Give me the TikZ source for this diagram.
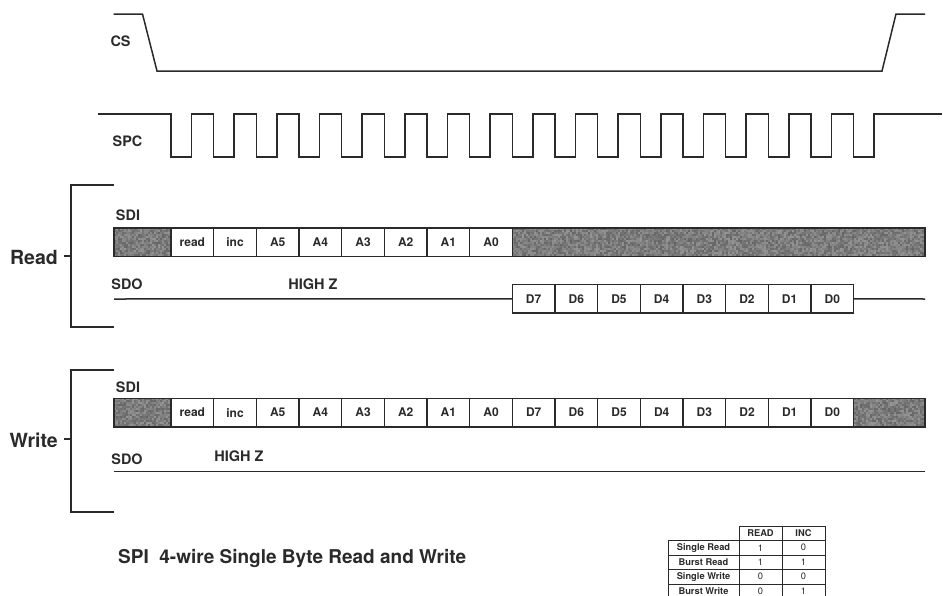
\documentclass[tikz,border=0pt]{standalone}
\usepackage{fontspec}
\setmainfont{TeX Gyre Heros}
\definecolor{ink}{HTML}{2A2A2A}
\tikzset{
  trace/.style={draw=ink,line width=1.5pt,line join=miter},
  cell/.style={draw=ink,line width=1.5pt,minimum width=42.67pt,minimum height=28.6pt,inner sep=0pt,outer sep=0pt,font=\bfseries\fontsize{12}{12}\selectfont,text=ink},
  graybox/.style={draw=ink,line width=1.5pt,minimum height=28.6pt,inner sep=0pt,outer sep=0pt},
  siglabel/.style={font=\bfseries\fontsize{14.4}{15}\selectfont,text=ink,inner sep=0pt},
  hiz/.style={font=\bfseries\fontsize{14.5}{15}\selectfont,text=ink,inner sep=0pt},
  grouplabel/.style={font=\bfseries\fontsize{19.5}{20}\selectfont,text=ink,inner sep=0pt},
  tcell/.style={draw=ink,line width=1pt,inner sep=0pt,outer sep=0pt,minimum height=14.5pt,font=\fontsize{9.3}{10}\selectfont,text=ink},
  thead/.style={tcell,font=\bfseries\fontsize{9.3}{10}\selectfont},
}
% noise-filled rectangle: x1 x2 y1 y2
\newcommand{\noisefill}[4]{%
  \fill[black!52] (#1,#3) rectangle (#2,#4);
  \pgfmathtruncatemacro{\nx}{(#2-#1)/2}
  \pgfmathtruncatemacro{\ny}{(#4-#3)/2}
  \foreach \i in {1,...,\nx}{\foreach \j in {1,...,\ny}{%
    \pgfmathrandominteger{\shade}{42}{60}
    \fill[black!\shade] ({#1+2*(\i-1)},{#3+2*(\j-1)}) rectangle +(2,2);
  }}
}
\begin{document}
\begin{tikzpicture}[x=1pt,y=-1pt]
\useasboundingbox (0,0) rectangle (943,595);
\pgfmathsetseed{4242}
\fill[white] (0,0) rectangle (943,595);

% CS
\draw[trace] (113.5,14) -- (142.5,14) -- (157,71) -- (882,71) -- (896,14) -- (925,14);
\node[siglabel] (cslabel) at (120.5,41) {CS};

% SPC
\draw[trace] (98,114) -- (171,114)
  foreach \k in {0,...,16}{ -- ({171+42.67*\k},157) -- ({191.5+42.67*\k},157) -- ({191.5+42.67*\k},114) -- ({213.67+42.67*\k},114) };
\draw[trace] (873,114) -- (942,114);
\fill[white] (860,108) rectangle (872,120);
\fill[white] (878,108) rectangle (897,112);
\node[siglabel] (spclabel) at (127.5,141) {SPC};

% Noise under grey regions
\noisefill{114}{171}{228}{256.6}
\noisefill{512.3}{925}{228}{256.6}
\noisefill{114}{171}{398.3}{426.9}
\noisefill{853.7}{925}{398.3}{426.9}

% Read group
\coordinate (rtop) at (114,185);
\coordinate (rbot) at (114,327);
\coordinate (rtick) at (64,256);
\draw[trace] (rtop) -- (71,185) -- (71,327) -- (rbot);
\draw[trace] (rtick) -- (71,256);
\node[grouplabel,anchor=east] (readlabel) at (58,257) {Read};
\node[siglabel] (sdir) at (128,215) {SDI};
\node[graybox,minimum width=57pt,anchor=north west] (rg1) at (114,228) {};
\foreach \t [count=\n from 0] in {read,inc,A5,A4,A3,A2,A1,A0}{
  \node[cell,anchor=north west] (r\n) at ({171+42.67*\n},228) {\t};
}
\node[graybox,minimum width=412.7pt,anchor=north west] (rg2) at (512.3,228) {};
\node[siglabel] (sdor) at (127,284.5) {SDO};
\node[hiz] (hizr) at (313,284) {HIGH Z};
\coordinate (rs) at (114,299);
\coordinate (re) at (925,299);
\foreach \t [count=\n from 0] in {D7,D6,D5,D4,D3,D2,D1,D0}{
  \node[cell,anchor=north west] (o\n) at ({512.3+42.67*\n},284.5) {\t};
}
\draw[trace] (rs) -- (o0.west);
\draw[trace] (o7.east) -- (re);

% Write group
\coordinate (wtop) at (114,370);
\coordinate (wbot) at (114,512);
\coordinate (wtick) at (64,439);
\draw[trace] (wtop) -- (71,370) -- (71,512) -- (wbot);
\draw[trace] (wtick) -- (71,439);
\node[grouplabel,anchor=east] (writelabel) at (58,440) {Write};
\node[siglabel] (sdiw) at (128,387) {SDI};
\node[graybox,minimum width=57pt,anchor=north west] (wg1) at (114,398.3) {};
\foreach \t [count=\n from 0] in {read,inc,A5,A4,A3,A2,A1,A0,D7,D6,D5,D4,D3,D2,D1,D0}{
  \node[cell,anchor=north west] (w\n) at ({171+42.67*\n},398.3) {\t};
}
\node[graybox,minimum width=71.3pt,anchor=north west] (wg2) at (853.7,398.3) {};
\node[siglabel] (sdow) at (127,459) {SDO};
\node[hiz] (hizw) at (239,456) {HIGH Z};
\coordinate (ws) at (114,471.7);
\coordinate (we) at (925,471.7);
\draw[trace] (ws) -- (we);

% Title
\node[anchor=west,inner sep=0pt,font=\bfseries\fontsize{19}{20}\selectfont,text=ink] (title) at (118,558) {SPI\ \ 4-wire Single Byte Read and Write};

% Table
\begin{scope}
\clip (0,0) rectangle (943,595);
\node[thead,minimum width=43pt,anchor=north west] (hr) at (739,526) {READ};
\node[thead,minimum width=43pt,anchor=north west] (hi) at (782,526) {INC};
\foreach \lab/\a/\b [count=\n from 0] in {Single Read/1/0,Burst Read/1/1,Single Write/0/0,Burst Write/0/1}{
  \node[thead,minimum width=71pt,anchor=north west] (tl\n) at (668,{540.5+14.5*\n}) {\lab};
  \node[tcell,minimum width=43pt,anchor=north west] (ta\n) at (739,{540.5+14.5*\n}) {\a};
  \node[tcell,minimum width=43pt,anchor=north west] (tb\n) at (782,{540.5+14.5*\n}) {\b};
}
\end{scope}
\end{tikzpicture}
\end{document}
